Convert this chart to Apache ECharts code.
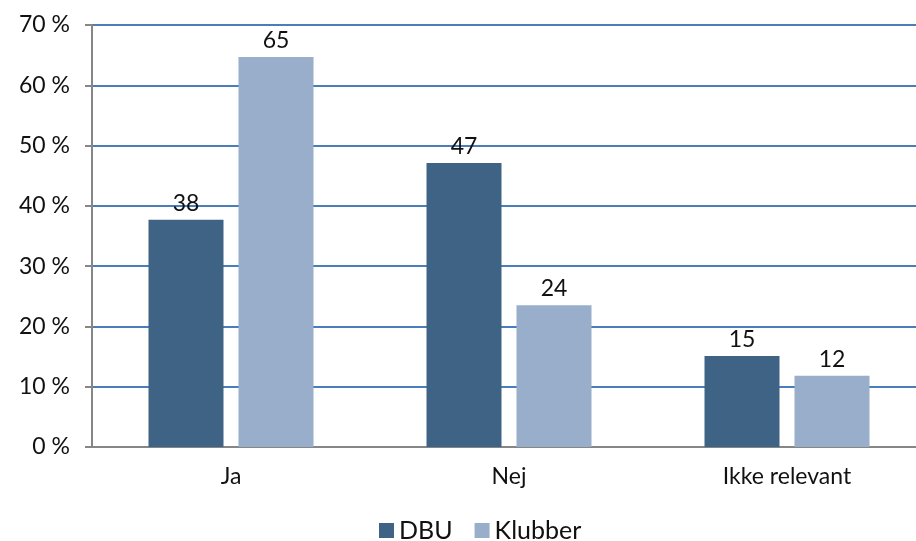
<!DOCTYPE html>
<html>
<head>
<meta charset="utf-8">
<script src="https://cdn.jsdelivr.net/npm/echarts@6/dist/echarts.min.js"></script>
<style>
html,body{margin:0;padding:0;background:#fff;}
#main{width:916px;height:541px;}
</style>
</head>
<body>
<div id="main"></div>
<script>
const categories = ['Ja', 'Nej', 'Ikke relevant'];
const dbuValues = [37.7, 47.1, 15.1];
const klubberValues = [64.7, 23.5, 11.8];
const yTicks = [0, 10, 20, 30, 40, 50, 60, 70];

const chart = echarts.init(document.getElementById('main'));
const font = 'Lato';
const labelStyle = {
  show: true,
  position: 'top',
  distance: 5,
  fontFamily: font,
  fontSize: 23,
  color: '#111',
  formatter: p => Math.round(p.value)
};

chart.setOption({
  animation: false,
  legend: {
    left: 374,
    top: 513,
    padding: 5,
    itemWidth: 15,
    itemHeight: 15,
    itemGap: 22,
    icon: 'rect',
    textStyle: { fontFamily: font, fontSize: 25, color: '#111' },
    data: ['DBU', 'Klubber']
  },
  grid: { left: 92, top: 25, width: 834, height: 422, outerBoundsMode: 'none' },
  xAxis: {
    type: 'category',
    data: categories,
    axisLine: { lineStyle: { color: '#868686', width: 2 } },
    axisTick: { length: 8, lineStyle: { color: '#868686', width: 2 } },
    axisLabel: { fontFamily: font, fontSize: 23, color: '#111', margin: 18 }
  },
  yAxis: {
    type: 'value',
    min: yTicks[0],
    max: yTicks[yTicks.length - 1],
    interval: 10,
    axisLine: { show: true, lineStyle: { color: '#868686', width: 2 } },
    axisTick: { show: true, length: 7, lineStyle: { color: '#868686', width: 2 } },
    axisLabel: { fontFamily: font, fontSize: 23, color: '#111', margin: 22, formatter: v => v + ' %' },
    splitLine: { lineStyle: { color: '#4a7ebb', width: 2 } }
  },
  series: [
    {
      name: 'DBU',
      type: 'bar',
      data: dbuValues,
      barWidth: 75,
      barGap: '20%',
      itemStyle: { color: '#3f6384' },
      label: labelStyle
    },
    {
      name: 'Klubber',
      type: 'bar',
      data: klubberValues,
      barWidth: 75,
      itemStyle: { color: '#98aecb' },
      label: labelStyle
    }
  ]
});
</script>
</body>
</html>
